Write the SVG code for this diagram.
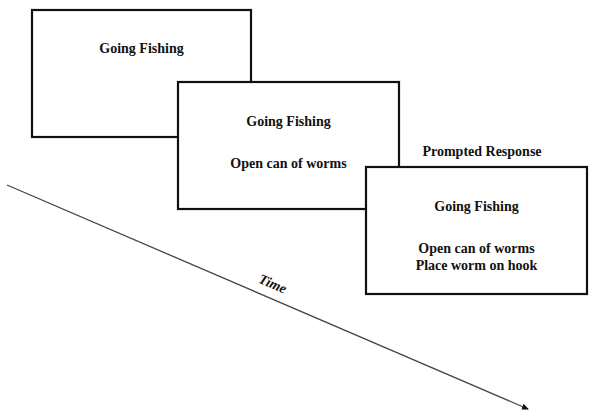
<svg xmlns="http://www.w3.org/2000/svg" width="600" height="420" viewBox="0 0 600 420">
<style>
.box{fill:#fff;stroke:#111;stroke-width:2.2}
.t{font-family:"Liberation Serif","Times New Roman",serif;font-weight:bold;font-size:14px;fill:#111;text-anchor:middle}
.axis{stroke:#444;stroke-width:1.3;fill:none}
</style>
<defs>
<marker id="ah" markerWidth="8" markerHeight="8" refX="6" refY="4" orient="auto" markerUnits="userSpaceOnUse">
<path d="M0,1 L7,4 L0,7 Z" fill="#111"/>
</marker>
</defs>
<rect width="600" height="420" fill="#fff"/>
<g id="connectors">
<line class="axis" x1="7" y1="185" x2="528" y2="409" marker-end="url(#ah)"/>
<text class="t" font-style="italic" font-size="13" transform="translate(271,288) rotate(23.3)">Time</text>
</g>
<g id="frame1">
<rect class="box" x="32" y="10" width="219" height="127"/>
<text class="t" x="141.5" y="53">Going Fishing</text>
</g>
<g id="frame2">
<rect class="box" x="178" y="82" width="221" height="127"/>
<text class="t" x="288.5" y="126">Going Fishing</text>
<text class="t" x="288.5" y="168">Open can of worms</text>
</g>
<g id="frame3">
<text class="t" x="482" y="156">Prompted Response</text>
<rect class="box" x="366" y="167" width="221" height="127"/>
<text class="t" x="476.5" y="211">Going Fishing</text>
<text class="t" x="476.5" y="253">Open can of worms</text>
<text class="t" x="476.5" y="270">Place worm on hook</text>
</g>
</svg>
